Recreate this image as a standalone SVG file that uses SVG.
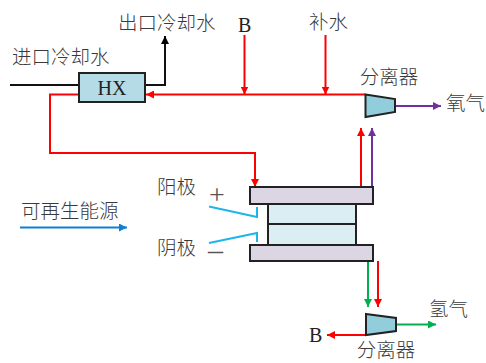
<svg xmlns="http://www.w3.org/2000/svg" width="486" height="363" viewBox="0 0 486 363">
<defs>
<marker id="ar" markerUnits="userSpaceOnUse" markerWidth="9" markerHeight="8" refX="8" refY="4" orient="auto"><path d="M0 0L8 4L0 8z" fill="#f00"/></marker>
<marker id="ak" markerUnits="userSpaceOnUse" markerWidth="9" markerHeight="8" refX="8" refY="4" orient="auto"><path d="M0 0L8 4L0 8z" fill="#000"/></marker>
<marker id="ap" markerUnits="userSpaceOnUse" markerWidth="9" markerHeight="8" refX="8" refY="4" orient="auto"><path d="M0 0L8 4L0 8z" fill="#7030a0"/></marker>
<marker id="ag" markerUnits="userSpaceOnUse" markerWidth="9" markerHeight="8" refX="8" refY="4" orient="auto"><path d="M0 0L8 4L0 8z" fill="#00b050"/></marker>
<marker id="ab" markerUnits="userSpaceOnUse" markerWidth="9" markerHeight="8" refX="8" refY="4" orient="auto"><path d="M0 0L8 4L0 8z" fill="#0f7fd0"/></marker>
</defs>
<style>
text{font-family:"Noto Sans CJK SC","Liberation Serif",sans-serif;font-size:19.500px;fill:#3a3a3a;font-weight:300}
.l{font-family:"Liberation Serif",serif;font-size:20px;font-weight:400;fill:#222}
.c{fill:none;stroke-width:2}
.r{stroke:#f00}.p{stroke:#7030a0}.g{stroke:#00b050}
.s{stroke:#222;stroke-width:2}
</style>
<rect width="486" height="363" fill="#fff"/>
<g id="connectors">
<path class="c" d="M10 85H79" stroke="#111"/>
<path class="c" d="M145 85H165V36" stroke="#111" marker-end="url(#ak)"/>
<path class="c r" d="M365 94.500H146" marker-end="url(#ar)"/>
<path class="c r" d="M79 94.500H50V153H255V187" marker-end="url(#ar)"/>
<path class="c r" d="M244.500 35V94.500" marker-end="url(#ar)"/>
<path class="c r" d="M325.500 35V94.500" marker-end="url(#ar)"/>
<path class="c r" d="M361 187V128" marker-end="url(#ar)"/>
<path class="c p" d="M372 187V128" marker-end="url(#ap)"/>
<path class="c p" d="M395 106H441" marker-end="url(#ap)"/>
<path class="c g" d="M368 261V307" marker-end="url(#ag)"/>
<path class="c r" d="M378 261V307" marker-end="url(#ar)"/>
<path class="c g" d="M396 324.500H436" marker-end="url(#ag)"/>
<path class="c r" d="M366 335H327" marker-end="url(#ar)"/>
<path class="c" d="M20 227.500H127" stroke="#0f7fd0" marker-end="url(#ab)"/>
<path class="c" d="M209 206.500L257 217V207" stroke="#1cb5ea"/>
<path class="c" d="M209 243L257 233V242" stroke="#1cb5ea"/>
</g>
<g id="hx"><rect class="s" x="79" y="73" width="66" height="29" fill="#b4dbe6"/><text class="l" x="112" y="95" text-anchor="middle">HX</text></g>
<g id="separator-top"><path class="s" d="M365.500 94.500L395 99V112L365.500 117z" fill="#92cddc"/><text x="389" y="84" text-anchor="middle">分离器</text></g>
<g id="separator-bottom"><path class="s" d="M366 314L396 318V331L366 335z" fill="#92cddc"/><text x="386" y="357" text-anchor="middle">分离器</text></g>
<g id="stack">
<rect class="s" x="268" y="204" width="88" height="41" fill="#daeef3"/>
<path class="s" d="M268 224H356"/>
<rect class="s" x="250" y="187" width="123" height="17" fill="#dcd6e4"/>
<rect class="s" x="250" y="245" width="123" height="16" fill="#dcd6e4"/>
</g>
<g id="labels">
<text x="12" y="64">进口冷却水</text>
<text x="118" y="30">出口冷却水</text>
<text class="l" x="238" y="32">B</text>
<text x="309" y="29">补水</text>
<text x="446" y="110">氧气</text>
<text x="429" y="316">氢气</text>
<text class="l" x="309" y="342">B</text>
<text x="21" y="218">可再生能源</text>
<text x="157" y="194">阳极</text>
<text x="157" y="255">阴极</text>
<text class="l" x="209" y="204" style="font-size:28px;font-weight:400;fill:#555">+</text>
<text class="l" x="208" y="260" style="font-size:30px;font-weight:400;fill:#555">–</text>
</g>
</svg>
